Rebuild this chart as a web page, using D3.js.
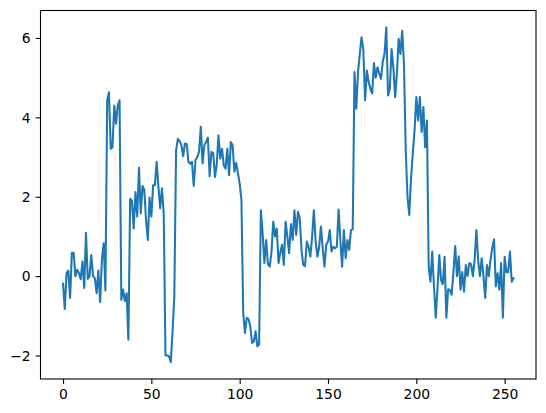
<!DOCTYPE html>
<html>
<head>
<meta charset="utf-8">
<script src="https://cdn.jsdelivr.net/npm/d3@7"></script>
<style>
  html, body { margin: 0; padding: 0; background: #fff; }
  svg { display: block; }
  .tick text { font-family: "DejaVu Sans", sans-serif; font-size: 13.9px; fill: #000; }
</style>
</head>
<body>
<div id="chart"></div>
<script>
// series values (x = 0..255)
const values = [
  -0.19, -0.83, 0.08, 0.14, -0.55, 0.59, 0.59, 0.0, 0.16, 0.08,
  -0.08, 0.37, -0.3, 1.09, -0.07, 0.0, 0.53, 0.0, -0.05, -0.43,
  0.14, -0.66, 0.41, 0.83, -0.36, 4.43, 4.63, 3.21, 3.25, 4.3,
  3.84, 4.3, 4.43, -0.6, -0.34, -0.63, -0.43, -1.6, 1.95, 1.9,
  1.2, 2.12, 1.5, 2.73, 1.58, 2.27, 2.17, 1.41, 0.91, 1.98,
  1.5, 2.29, 2.29, 2.88, 2.25, 1.71, 2.21, 1.58, -2.0, -2.0,
  -2.02, -2.17, -1.4, -0.51, 3.17, 3.46, 3.4, 3.3, 3.02, 3.34,
  3.33, 2.88, 2.83, 2.88, 2.27, 2.92, 3.0, 3.13, 3.76, 2.84,
  3.3, 3.38, 3.49, 2.52, 3.13, 3.1, 2.5, 2.8, 3.55, 2.96,
  3.21, 2.79, 2.71, 3.21, 2.54, 3.38, 3.3, 2.63, 2.85, 2.6,
  2.33, 1.92, -0.93, -1.43, -1.05, -1.08, -1.26, -1.68, -1.65, -1.39,
  -1.77, -1.72, 1.66, 1.08, 0.33, 0.91, 0.3, 0.24, 0.6, 1.37,
  1.0, 1.2, 0.33, 0.6, 0.79, 0.28, 1.37, 1.0, 0.58, 1.31,
  0.91, 1.66, 1.04, 1.62, 1.46, 0.66, 0.28, 0.25, 0.87, 0.74,
  0.49, 0.99, 1.66, 0.87, 0.49, 0.74, 1.25, 0.7, 0.24, 0.79,
  0.87, 1.16, 0.62, 0.74, 0.7, 0.74, 1.68, 0.91, 0.24, 1.16,
  0.45, 0.91, 0.66, 1.16, 1.18, 5.14, 4.22, 5.14, 5.6, 6.02,
  5.7, 4.43, 5.18, 4.9, 4.72, 4.6, 5.37, 5.0, 5.26, 5.1,
  4.97, 5.4, 5.6, 6.27, 4.55, 4.72, 5.72, 5.26, 4.51, 5.1,
  5.98, 5.6, 6.18, 5.35, 3.17, 2.0, 1.54, 2.46, 3.1, 3.67,
  4.51, 3.92, 4.51, 3.63, 4.26, 3.25, 3.92, 0.24, -0.14, 0.62,
  -0.26, -1.05, -0.3, 0.53, -0.1, -0.2, 0.49, -1.05, -0.33, -0.35,
  -0.47, 0.1, 0.76, 0.0, 0.5, -0.34, 0.1, -0.39, 0.28, 0.0,
  0.33, 0.3, 0.0, 0.4, 1.16, 0.4, 0.0, 0.45, 0.0, -0.55,
  0.28, 0.0, 0.41, 0.72, 0.93, -0.26, 0.07, -0.34, 0.33, -1.05,
  0.49, 0.1, 0.1, 0.62, -0.14, -0.05
];
const xTicks = [0, 50, 100, 150, 200, 250];
const yTicks = [-2, 0, 2, 4, 6];

const width = 546, height = 413;
const margin = { top: 10.5, right: 10, bottom: 34, left: 40.5 };

const svg = d3.select("#chart")
  .append("svg")
  .attr("width", width)
  .attr("height", height);

// matplotlib style 5% margins around data
const n = values.length;
const xPad = (n - 1) * 0.05;
const yMin = d3.min(values), yMax = d3.max(values);
const yPad = (yMax - yMin) * 0.05;

const x = d3.scaleLinear()
  .domain([-xPad, n - 1 + xPad])
  .range([margin.left, width - margin.right]);

const y = d3.scaleLinear()
  .domain([yMin - yPad, yMax + yPad])
  .range([height - margin.bottom, margin.top]);

const line = d3.line()
  .x((d, i) => x(i))
  .y(d => y(d));

svg.append("path")
  .datum(values)
  .attr("fill", "none")
  .attr("stroke", "#1f77b4")
  .attr("stroke-width", 2.08)
  .attr("stroke-linejoin", "round")
  .attr("stroke-linecap", "square")
  .attr("d", line);

const fmt = d => d < 0 ? "\u2212" + Math.abs(d) : String(d);

const xAxis = svg.append("g")
  .attr("transform", `translate(0,${height - margin.bottom})`)
  .call(d3.axisBottom(x).tickValues(xTicks).tickFormat(fmt)
    .tickSize(4.9).tickSizeOuter(0).tickPadding(4.9));

const yAxis = svg.append("g")
  .attr("transform", `translate(${margin.left},0)`)
  .call(d3.axisLeft(y).tickValues(yTicks).tickFormat(fmt)
    .tickSize(4.9).tickSizeOuter(0).tickPadding(4.9));

[xAxis, yAxis].forEach(g => {
  g.select(".domain").remove();
  g.selectAll(".tick line").attr("stroke", "#000").attr("stroke-width", 1.1);
});
yAxis.selectAll(".tick text").attr("dy", "0.35em");

// frame
svg.append("rect")
  .attr("x", margin.left)
  .attr("y", margin.top)
  .attr("width", width - margin.left - margin.right)
  .attr("height", height - margin.top - margin.bottom)
  .attr("fill", "none")
  .attr("stroke", "#000")
  .attr("stroke-width", 1.1);
</script>
</body>
</html>
